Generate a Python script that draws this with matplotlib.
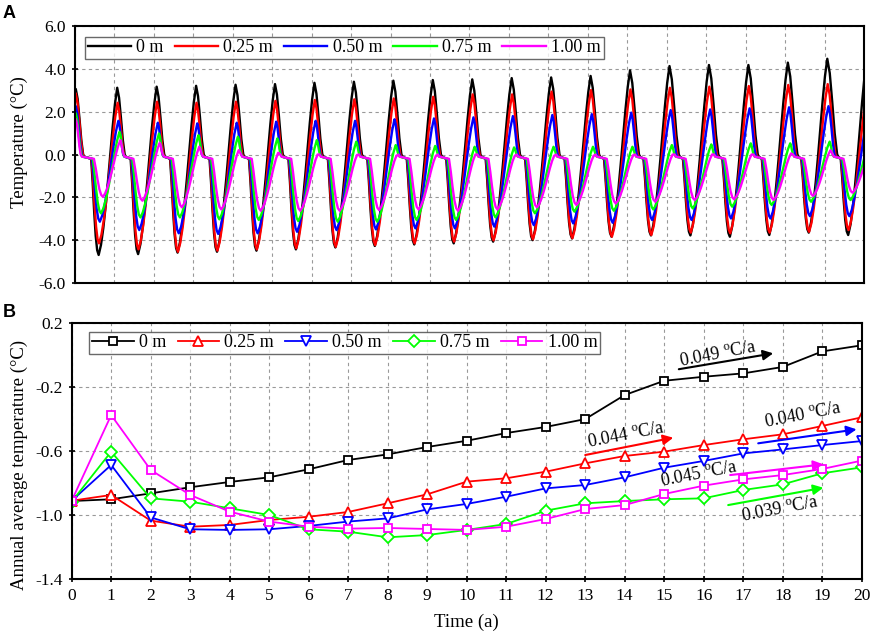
import numpy as np
import matplotlib
matplotlib.use('Agg')
import matplotlib.pyplot as plt

plt.rcParams['font.family'] = ['Liberation Serif', 'DejaVu Sans']
plt.rcParams['mathtext.fontset'] = 'custom'
plt.rcParams['mathtext.rm'] = 'Liberation Serif'
plt.rcParams['axes.unicode_minus'] = False

depths = ['0 m', '0.25 m', '0.50 m', '0.75 m', '1.00 m']
colors = ['black', 'red', 'blue', '#00ff00', 'magenta']
markers = ['s', '^', 'v', 'D', 's']

# ================================
# (A) ground temperature, read per year: peak (years 0..20) and minimum (years 0..19)
peak_0 = [3.05, 3.11, 3.16, 3.20, 3.25, 3.28, 3.34, 3.39, 3.44, 3.47, 3.50,
          3.56, 3.59, 3.66, 3.92, 4.12, 4.17, 4.17, 4.28, 4.46, 4.40]
peak_025 = [2.85, 2.41, 2.46, 2.41, 2.46, 2.50, 2.54, 2.57, 2.61, 2.69, 2.80,
            2.80, 2.93, 3.00, 3.03, 3.11, 3.16, 3.19, 3.24, 3.28, 3.00]
peak_050 = [2.25, 1.57, 1.48, 1.45, 1.48, 1.53, 1.57, 1.57, 1.64, 1.68, 1.73,
            1.79, 1.84, 1.88, 1.95, 2.07, 2.10, 2.15, 2.20, 2.25, 1.80]
peak_075 = [1.92, 1.06, 0.98, 0.90, 0.83, 0.75, 0.67, 0.60, 0.44, 0.40, 0.36,
            0.33, 0.36, 0.36, 0.36, 0.44, 0.47, 0.52, 0.52, 0.60, 0.50]
peak_100 = [1.65, 0.67, 0.55, 0.36, 0.20, 0.08, 0.00, -0.02, -0.05, -0.05, 0.00,
            -0.05, -0.05, -0.05, -0.03, 0.00, 0.00, 0.00, 0.05, 0.20, 0.10]

trough_0 = [-4.68, -4.64, -4.57, -4.53, -4.48, -4.42, -4.33, -4.26, -4.19, -4.14,
            -4.06, -3.99, -3.91, -3.83, -3.77, -3.77, -3.83, -3.75, -3.64, -3.75]
trough_025 = [-4.14, -4.42, -4.53, -4.48, -4.42, -4.37, -4.30, -4.22, -4.14, -4.06,
              -4.00, -3.95, -3.90, -3.83, -3.75, -3.64, -3.67, -3.64, -3.60, -3.52]
trough_050 = [-3.13, -3.52, -3.67, -3.70, -3.67, -3.60, -3.52, -3.49, -3.44, -3.44,
              -3.36, -3.29, -3.21, -3.18, -3.05, -3.05, -2.98, -2.98, -2.87, -2.87]
trough_075 = [-2.74, -2.93, -2.93, -3.02, -3.05, -3.10, -3.13, -3.13, -3.05, -3.05,
              -2.93, -2.74, -2.66, -2.62, -2.56, -2.51, -2.43, -2.35, -2.20, -2.12]
trough_100 = [-1.97, -2.15, -2.46, -2.56, -2.62, -2.62, -2.62, -2.59, -2.56, -2.62,
              -2.56, -2.46, -2.35, -2.28, -2.20, -2.12, -2.09, -2.12, -1.93, -1.78]

start_temp = [2.6, 2.45, 2.05, 1.8, 1.6]

# where in the year each depth peaks, leaves the zero curtain and reaches its minimum
peak_phase = [0.07, 0.08, 0.10, 0.13, 0.15]
curtain_end = [0.41, 0.42, 0.43, 0.45, 0.48]
trough_phase = [0.60, 0.61, 0.63, 0.66, 0.71]

# outline of one year (fraction of the swing)
fall_s = [0.0, 0.25, 0.5, 0.75, 1.0]
fall_f = [1.0, 0.85, 0.55, 0.22, 0.0]
drop_s = [0.0, 0.2, 0.4, 0.6, 0.8, 1.0]
drop_f = [0.0, 0.25, 0.55, 0.8, 0.95, 1.0]
rise_s = [0.125, 0.25, 0.375, 0.5, 0.625, 0.75, 0.875]
rise_f = [0.06, 0.16, 0.29, 0.44, 0.6, 0.76, 0.9]

# ================================
# (B) annual average temperature
years = list(range(21))
annual_0 = [-0.912, -0.901, -0.864, -0.826, -0.793, -0.764, -0.714, -0.656, -0.621, -0.575, -0.536,
            -0.488, -0.450, -0.401, -0.251, -0.162, -0.137, -0.116, -0.076, 0.021, 0.059]
annual_025 = [-0.910, -0.874, -1.034, -1.072, -1.061, -1.030, -1.010, -0.980, -0.926, -0.870, -0.791,
              -0.770, -0.729, -0.677, -0.631, -0.604, -0.563, -0.527, -0.496, -0.444, -0.390]
annual_050 = [-0.910, -0.687, -1.014, -1.088, -1.092, -1.088, -1.067, -1.040, -1.020, -0.964, -0.930,
              -0.885, -0.833, -0.812, -0.764, -0.704, -0.662, -0.615, -0.590, -0.563, -0.538]
annual_075 = [-0.916, -0.604, -0.895, -0.916, -0.957, -0.999, -1.088, -1.103, -1.138, -1.124, -1.092,
              -1.055, -0.972, -0.926, -0.912, -0.901, -0.895, -0.843, -0.808, -0.739, -0.702]
annual_100 = [-0.910, -0.376, -0.718, -0.874, -0.978, -1.040, -1.072, -1.084, -1.080, -1.086, -1.092,
              -1.072, -1.024, -0.962, -0.937, -0.868, -0.816, -0.777, -0.750, -0.712, -0.660]

trend_labels = ['0.049', '0.044', '0.040', '0.045', '0.039']
trend_colors = ['black', 'red', 'blue', 'magenta', '#00ff00']


def yearly_curve(peaks, troughs, tp, ts, tt, start):
    # puts the yearly outline between the read peaks and minima
    t = [0.0]
    v = [start]
    for n in range(len(troughs)):
        p0 = n + (0.02 if n == 0 else tp)
        P = peaks[n]
        fall = 0.05 + 0.045 * max(P, 0)
        for s, f in zip(fall_s, fall_f):
            t.append(p0 + s * fall)
            v.append(P * f)
        t.append(p0 + fall + 0.03)
        v.append(-0.1)
        for s, f in zip(drop_s, drop_f):
            t.append(n + ts + s * (tt - ts))
            v.append(-0.2 + (troughs[n] + 0.2) * f)
        p1 = n + 1 + tp
        for s, f in zip(rise_s, rise_f):
            t.append(n + tt + s * (p1 - n - tt))
            v.append(troughs[n] + (peaks[n + 1] - troughs[n]) * f)
    t.append(len(troughs) + tp)
    v.append(peaks[-1])
    return np.array(t), np.array(v)


fig = plt.figure(figsize=(8.72, 6.33), dpi=100)
ax1 = fig.add_axes([0.0860, 0.5524, 0.9048, 0.4070])
ax2 = fig.add_axes([0.0822, 0.0848, 0.9060, 0.4054])

grid_kw = dict(color='#999999', linestyle=(0, (3, 3)), linewidth=0.8)

# ---- panel A
peaks = [peak_0, peak_025, peak_050, peak_075, peak_100]
troughs = [trough_0, trough_025, trough_050, trough_075, trough_100]
for i in range(5):
    t, v = yearly_curve(peaks[i], troughs[i], peak_phase[i], curtain_end[i],
                        trough_phase[i], start_temp[i])
    ax1.plot(t, v, color=colors[i], lw=1.7, label=depths[i])

ax1.set_xlim(0, 20)
ax1.set_ylim(-6, 6)
ax1.set_xticks(range(0, 21))
ax1.set_yticks([-6, -4, -2, 0, 2, 4, 6])
ax1.set_yticklabels(['%.1f' % y for y in [-6, -4, -2, 0, 2, 4, 6]])
ax1.tick_params(axis='x', length=0, labelbottom=False)
ax1.tick_params(axis='y', direction='inout', length=5, width=1.2, labelsize=12.5, pad=4)
ax1.grid(True, **grid_kw)
ax1.set_axisbelow(True)
ax1.set_ylabel('Temperature (°C)', fontsize=13.5)
ax1.yaxis.set_label_coords(-0.06, 0.55)
leg1 = ax1.legend(loc='upper left', bbox_to_anchor=(0.0127, 0.957), ncol=5, fontsize=13,
                  frameon=True, fancybox=False, edgecolor='#444444', borderaxespad=0,
                  handlelength=2.4, handletextpad=0.3, columnspacing=0.6, borderpad=0.15)
leg1.get_frame().set_linewidth(1.0)

# ---- panel B
annual = [annual_0, annual_025, annual_050, annual_075, annual_100]
msizes = [6, 7.5, 7.5, 6, 6]
for i in range(5):
    ax2.plot(years, annual[i], color=colors[i], lw=1.3, marker=markers[i], ms=msizes[i],
             mfc='white', mec=colors[i], mew=1.3, label=depths[i])

ax2.set_xlim(0, 20)
ax2.set_ylim(-1.4, 0.2)
ax2.set_xticks(range(0, 21))
ax2.set_yticks([-1.4, -1.0, -0.6, -0.2, 0.2])
ax2.set_yticklabels(['%.1f' % y for y in [-1.4, -1.0, -0.6, -0.2, 0.2]])
ax2.tick_params(direction='inout', length=5, width=1.2, labelsize=12.5, pad=4)
ax2.grid(True, **grid_kw)
ax2.set_axisbelow(True)
ax2.set_xlabel('Time (a)', fontsize=13.5, labelpad=7)
ax2.set_ylabel('Annual average temperature (°C)', fontsize=13.5)
ax2.yaxis.set_label_coords(-0.055, 0.447)
leg2 = ax2.legend(loc='upper left', bbox_to_anchor=(0.0223, 0.965), ncol=5, fontsize=13,
                  frameon=True, fancybox=False, edgecolor='#444444', borderaxespad=0,
                  handlelength=2.3, handletextpad=0.3, columnspacing=0.62, borderpad=0.15,
                  numpoints=1)
leg2.get_frame().set_linewidth(1.0)

# trend arrows: (start, end, label position)
trend_arrows = [((15.37, -0.090), (17.76, 0.009), (16.37, 0.000)),
                ((13.00, -0.625), (15.23, -0.517), (14.05, -0.506)),
                ((17.38, -0.552), (19.87, -0.465), (18.52, -0.382)),
                ((16.67, -0.750), (19.03, -0.683), (15.89, -0.750)),
                ((16.62, -0.937), (19.03, -0.829), (17.95, -0.968))]
for (p_start, p_end, p_text), lab, c in zip(trend_arrows, trend_labels, trend_colors):
    ax2.annotate('', xy=p_end, xytext=p_start,
                 arrowprops=dict(arrowstyle='-|>', color=c, lw=1.5, mutation_scale=15,
                                 shrinkA=0, shrinkB=0))
    ax2.text(p_text[0], p_text[1], lab + r' $^{\rm o}$C/a', fontsize=13, rotation=11,
             rotation_mode='anchor', ha='center', va='center', color='black')

for ax in (ax1, ax2):
    for sp in ax.spines.values():
        sp.set_linewidth(1.5)

fig.text(0.003, 1 - 18.5 / 633, 'A', fontsize=13, fontweight='bold',
         family='Liberation Sans', va='baseline')
fig.text(0.003, 1 - 317 / 633, 'B', fontsize=13, fontweight='bold',
         family='Liberation Sans', va='baseline')

fig.savefig('out.png', dpi=100)
